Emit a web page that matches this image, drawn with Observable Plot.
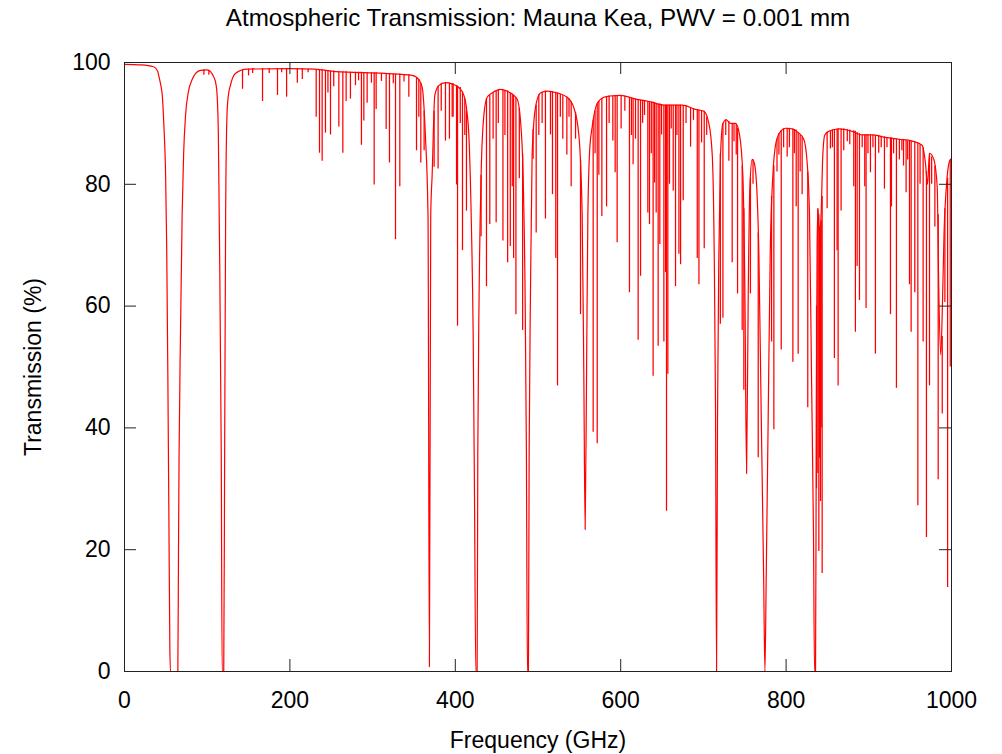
<!DOCTYPE html>
<html>
<head>
<meta charset="utf-8">
<script src="https://cdn.jsdelivr.net/npm/d3@7"></script>
<script src="https://cdn.jsdelivr.net/npm/@observablehq/plot@0.6"></script>
<style>
  html, body { margin: 0; padding: 0; background: #fff; }
  #chart { width: 1002px; height: 754px; }
</style>
</head>
<body>
<div id="chart"></div>
<script>
// Continuum (broad envelope incl. strong O2 / H2O absorption walls): frequency (GHz), transmission (%)
const contFreq = [0,20,35,40,42,44,45.7,47.5,49.7,51,52.4,53.7,54.8,55.6,64.5,65.3,66,67.7,69.7,71.5,73.8,77,81.8,86,91.9,100,104,108,110.5,112,113.5,114.5,117,118.1,120,121.1,122.3,123.9,125.5,128,134,148,200,230,255,315,348,356,360,363.8,367,368.7,370.3,372,375.2,380,388,396,404.3,410.4,414,416.4,419.2,421.6,423.2,424.8,426.4,427.2,428.8,431.2,434.5,438.5,444.5,454.6,462.6,474.7,478.7,482,484.4,486,487.2,488.4,489.3,490.9,492.9,496.9,502.9,511,523.1,535.2,543.3,549.4,553.4,555.4,557,558.7,560.3,562.7,565.5,571.6,579.7,587.7,599.8,617.9,634,654.2,674.4,690.5,700.6,706.6,710.7,713.1,714.7,715.9,717.1,718.7,720.7,723.6,727.6,732.8,738.9,743.7,747.7,750.2,752.2,754.2,756.2,759,761.5,764.7,767.1,769.9,772.8,774.4,776,778.4,780.8,784,788.1,793.3,799.4,807.3,815.4,821.4,825.5,828.3,830.7,833.1,834.4,835.6,836.5,837.5,838.5,840,842,844.4,846.8,851.6,863.7,879.8,891.9,904,920.2,936.3,952.4,964.5,968.5,971,973.4,978.6,982.7,984.7,987,989,991,994,997,1000];
const contTrans = [99.7,99.6,99.3,98.6,97.5,96.2,94.6,90,81.5,70,48.8,25,4.4,0,0,20,35.7,55.4,75,85,91.3,95,97.2,98.2,98.7,98.8,98.5,97.6,96.5,94.6,88,75,35.7,0,0,35.7,75,91.3,94.5,96.2,98.2,98.9,99.0,98.9,98.5,98.2,97.9,97.2,95.9,88.1,75,0.8,75,81.5,94.6,96.2,96.7,96.5,95.9,94.6,92,88.1,75,55.4,29.2,0,0,35.7,62,81.5,91.3,94.3,95,95.6,95.3,94,90.7,81.5,62,35.7,0,0,35.7,62,84.8,92.6,95,95.3,95,94.3,92.6,88.1,75,48.8,23.3,48.8,75,86.1,89.4,93.3,94.3,94.5,94.6,94.0,93.6,93.0,93.0,92.3,92.0,90.0,84.8,68.5,42.3,0,42.3,68.5,84.8,90.0,90.6,90.0,90.0,88.1,81.5,62,32.5,62,79.6,84.1,83.5,78.9,68.5,42.3,16.1,0,16.1,42.3,68.5,81.5,87.1,88.7,89.2,89.1,88.4,87.4,83.5,75,48.8,22.7,0,0,40,70,76,72,74,84.8,88.1,88.7,89.1,88.7,88.1,88.1,87.7,87.4,87.1,86.4,83.5,80,85.1,84.1,79.6,62,52,60,72,80,83.5,84.3];

// Narrow absorption lines: centre frequency (GHz), line minimum (%), envelope level where the line starts (%)
const lineFreq = [96,102,142.7,150,155,166.9,175,185,190,196,209,215,222,
  231.8,235.8,239.0,243.0,246,249.1,253,259.2,264.0,268.0,273.2,279.3,283,286.5,289.4,293.4,298.6,301.9,304.3,310.7,316.4,320.4,325,327.7,332.9,338,343.8,353.1,355.9,358.3,362.3,374.4,379.2,383,388.1,392.9,396.2,
  397.4,401.5,402.7,406,408.7,411.5,413.5,431.2,437.7,441.7,445.7,449.4,452,457.6,460,463.3,466.5,468.9,470.5,473.3,477.4,481.4,494.1,497.8,501,505,509,515.1,517.5,521.5,523.6,527,530,534.9,537.5,540.1,545.4,551.4,566.7,569,571.6,573.6,577.2,582.9,586,590.5,593.3,595.7,600.5,
  605,610.6,613,615,617.9,621.1,624,626.5,628.8,632.8,634.8,637,639.2,640.9,642.9,645.3,647.3,649.4,652.2,654.2,655.4,657,659,661.1,663.5,666.3,668,670.4,672.4,675.6,679,684.5,688,692.6,694.6,697.8,701,704,720.5,723.6,727,730.8,734.8,737,739.7,741.3,746.9,748.9,756.9,760,766.3,782.4,785.2,789,791.3,794.1,797,
  801.3,804,808.2,810,812.2,814.6,817,819.4,826.2,836.8,838.4,839.6,840.5,841.6,842.5,843.6,849.6,853.6,856,858.4,861.7,862.9,866.5,869.7,874,877,881.8,883.8,885.9,888.7,892,895.1,896.7,899,902,905,908,912,915,918.9,922,926.2,927.4,930,933.4,937,940,942,945.1,947,949.2,951.2,955.6,959.3,962,965.7,969.7,973.4,976,979.9,983.9,988.8,992,995.3,998.5];
const lineMin = [97.9,97.9,95.6,97.8,98.2,93.6,98.2,94.6,98.3,94.3,96.6,97.2,98.3,
  91.0,85.1,83.8,88.4,95,88.1,96,89.4,85.1,93.6,94.0,96.2,97,86.4,90.4,93.3,96.6,79.9,92.3,96.9,89.0,83.5,96.5,70.9,79.6,96.8,94.3,85.5,91.0,83.5,85.5,82.8,82.5,92,87.1,87.4,91.0,
  91,79.9,56.7,90,69.1,88,75.6,71.4,63.2,73.4,87.4,73.7,90,70.7,88,67.1,69.8,79.6,67.8,58.6,80.9,56,84.1,72,88,90,74.3,88.1,78.3,67.8,46.9,91,87.4,84.8,91,79.6,87.4,58.6,39.3,85,37.4,81.5,74.7,76.3,90,87.1,81.9,70.4,89.1,
  92,62.2,88,83.2,87.4,54.4,64.9,90,91.3,75.3,73.4,85,48.5,80.2,75.3,53.4,70.1,88.1,54.1,65.5,26.3,48.8,80,89.1,78.9,63.2,88,68.5,66.8,77.3,90,86.1,90.5,67.8,63.5,86.8,69.4,88,57,58,88,83.8,67.1,87,84.8,62,56,46.2,62,80,35.1,54.1,39.7,82,84.8,52.8,86,
  84.5,86,50.8,85,76.3,52.1,82,78.3,43.3,30,32.5,19.7,35,27.9,40,16.1,76,85.8,86,51.4,69.1,46.9,75.6,85.5,87,86.5,79.6,55.7,66.5,60.9,86,79.6,59.6,85,81.9,86,52.1,85.1,86,79.2,86,58.6,76.3,85,46.5,84,85.5,83,78.6,84,63.5,55.7,62.2,27.2,80,54.1,22,46.9,80,73,31.5,42.3,60.6,13.8,50];
const lineTop = [98.8,98.7,98.8,98.9,99.0,99.0,99.0,99.0,99.0,99.0,99.0,99.0,98.9,
  98.8,98.8,98.8,98.7,98.7,98.6,98.6,98.5,98.5,98.5,98.4,98.4,98.4,98.4,98.3,98.3,98.3,98.3,98.3,98.2,98.2,98.2,98.1,98.1,98.1,98.0,98.0,97.5,97.2,96.5,92,92,96.1,96.5,96.7,96.6,96.5,
  96.5,96.2,96.1,95.9,95.2,94,92,81.5,94,94.6,95,95.3,95.5,95.5,95.4,95.3,95.0,94.8,94.6,94.2,92.5,85,89,93,94.7,95.1,95.3,95.2,95.2,95.1,95,94.8,94.6,94.3,94,93.5,91.8,84,90.5,92,93.2,93.6,94.1,94.4,94.5,94.5,94.5,94.5,94.6,
  94.4,94.2,94.1,94.1,94.0,93.9,93.8,93.8,93.7,93.6,93.6,93.5,93.5,93.4,93.3,93.2,93.2,93.1,93.0,93.0,93.0,93.0,93,93,93,93,93,93,93,92.9,92.8,92.6,92.4,92.2,92.2,92.1,92,91,85,90,90.6,90.3,90,90,89.8,89.2,83,76,81,84,72,78,83,87.5,88.3,88.8,89.1,
  89.2,89.2,89.1,89,88.9,88.5,88,87.7,82,60,76,75,73,73,74,78,88.5,88.8,88.9,89,89,89.1,89.1,89.1,89,88.9,88.8,88.7,88.5,88.3,88.1,88.1,88.1,88.1,88.1,88.1,88,88,87.9,87.8,87.7,87.6,87.6,87.5,87.4,87.4,87.3,87.2,87.2,87.1,87.1,87.1,86.9,86.7,86.5,86,82,85,84.5,83,75,55,76,81,84];

const xTicks = [0, 200, 400, 600, 800, 1000];
const yTicks = [0, 20, 40, 60, 80, 100];
const titleText = "Atmospheric Transmission: Mauna Kea, PWV = 0.001 mm";
const xLabel = "Frequency (GHz)";
const yLabel = "Transmission (%)";

const continuum = contFreq.map((f, i) => ({f, t: contTrans[i]}));
const lines = lineFreq.map((f, i) => ({f, min: lineMin[i], top: lineTop[i]}));

const font = "'Liberation Sans', Arial, Helvetica, sans-serif";
const red = "#ff0000";

const chart = Plot.plot({
  width: 1002,
  height: 754,
  marginLeft: 124,
  marginRight: 51,
  marginTop: 62,
  marginBottom: 83,
  style: {fontFamily: font, fontSize: "23px", background: "#fff", color: "#000"},
  x: {domain: [0, 1000], axis: null},
  y: {domain: [0, 100], axis: null},
  marks: [
    Plot.ruleX(lines, {x: "f", y1: "min", y2: "top", stroke: red, strokeWidth: 1.25}),
    Plot.line(continuum, {x: "f", y: "t", stroke: red, strokeWidth: 1.2, curve: "monotone-x"}),
    Plot.frame({stroke: "#222", strokeWidth: 1}),
    // inward ticks on all four sides
    Plot.tickX(xTicks, {x: d => d, insetTop: 597, stroke: "#222"}),
    Plot.tickX(xTicks, {x: d => d, insetBottom: 597, stroke: "#222"}),
    Plot.tickY(yTicks, {y: d => d, insetRight: 815, stroke: "#222"}),
    Plot.tickY(yTicks, {y: d => d, insetLeft: 815, stroke: "#222"}),
    Plot.axisX({ticks: xTicks, tickSize: 0, tickPadding: 20, tickFormat: d => String(d), label: null, fontSize: 23, fill: "#000"}),
    Plot.axisY({ticks: yTicks, tickSize: 0, tickPadding: 14, tickFormat: d => String(d), label: null, fontSize: 23, fill: "#000"}),
    Plot.text([titleText], {frameAnchor: "top", dy: -44, lineAnchor: "middle", textAnchor: "middle", fontSize: 24.2, fill: "#000", text: d => d}),
    Plot.text([xLabel], {frameAnchor: "bottom", dy: 69, lineAnchor: "middle", textAnchor: "middle", fontSize: 23, fill: "#000", text: d => d}),
    Plot.text([yLabel], {frameAnchor: "left", dx: -91, rotate: -90, lineAnchor: "middle", textAnchor: "middle", fontSize: 23, fill: "#000", text: d => d})
  ]
});
document.getElementById("chart").appendChild(chart);
</script>
</body>
</html>
